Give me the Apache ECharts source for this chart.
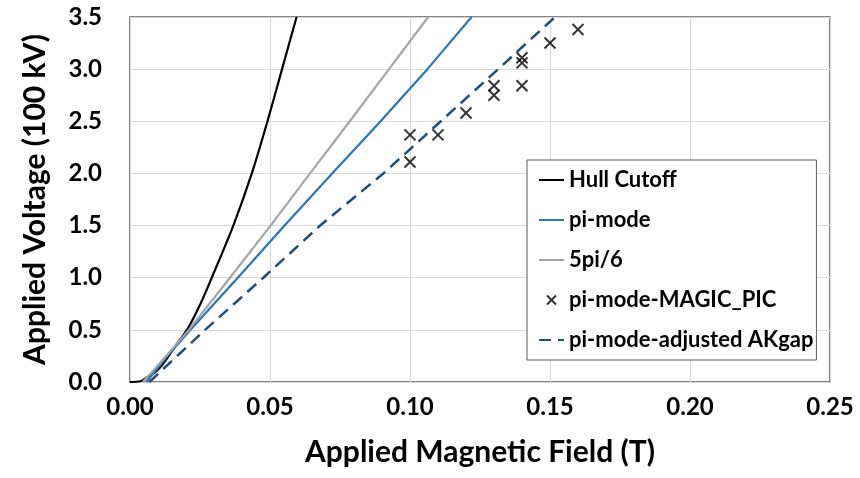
<!DOCTYPE html>
<html>
<head>
<meta charset="utf-8">
<script src="https://cdn.jsdelivr.net/npm/echarts@6/dist/echarts.min.js"></script>
<style>
  html, body { margin: 0; padding: 0; background: #fff; }
  #chart { width: 860px; height: 478px; }
</style>
</head>
<body>
<div id="chart"></div>
<script>
// Axis ticks
const xTicks = [0.00, 0.05, 0.10, 0.15, 0.20, 0.25];
const yTicks = [0.0, 0.5, 1.0, 1.5, 2.0, 2.5, 3.0, 3.5];

// Hull cutoff curve (B in T, V in 100 kV)
const hullB = [0, 0.004, 0.0064, 0.0088, 0.0111, 0.0161, 0.0208, 0.0250, 0.0292, 0.0369, 0.0435, 0.0491, 0.0543, 0.0595];
const hullV = [0, 0.01, 0.05, 0.09, 0.15, 0.34, 0.52, 0.74, 1.00, 1.50, 2.00, 2.50, 3.00, 3.50];

// pi-mode resonance
const piB = [0.0058, 0.0130, 0.0216, 0.0385, 0.0552, 0.0722, 0.0895, 0.1062, 0.1220];
const piV = [0, 0.24, 0.50, 1.00, 1.50, 2.00, 2.50, 3.00, 3.50];

// 5pi/6 resonance
const fiveB = [0.0046, 0.0120, 0.0210, 0.0357, 0.0502, 0.0643, 0.0785, 0.0925, 0.1065];
const fiveV = [0, 0.22, 0.50, 1.00, 1.50, 2.00, 2.50, 3.00, 3.50];

// MAGIC PIC simulation points
const picB = [0.10, 0.10, 0.11, 0.12, 0.13, 0.13, 0.14, 0.14, 0.14, 0.15, 0.16];
const picV = [2.37, 2.11, 2.37, 2.58, 2.84, 2.75, 3.11, 3.06, 2.84, 3.25, 3.38];

// pi-mode with adjusted anode-cathode gap
const adjB = [0.0069, 0.0268, 0.0476, 0.0679, 0.0905, 0.1110, 0.1315, 0.1518];
const adjV = [0, 0.50, 1.00, 1.50, 2.00, 2.50, 3.00, 3.50];

const pairs = (xs, ys) => xs.map((x, i) => [x, ys[i]]);

const FONT = 'Lato';
const hideDot = { opacity: 0 };
const chart = echarts.init(document.getElementById('chart'), null, { renderer: 'canvas' });

chart.setOption({
  backgroundColor: '#ffffff',
  animation: false,
  grid: {
    left: 130, right: 30, top: 17, bottom: 96,
    show: true, borderColor: '#595959', borderWidth: 1.5, backgroundColor: 'transparent'
  },
  xAxis: {
    type: 'value',
    min: xTicks[0], max: xTicks[xTicks.length - 1], interval: 0.05,
    name: 'Applied Magnetic Field (T)',
    nameLocation: 'middle', nameGap: 55,
    nameTextStyle: { fontFamily: FONT, fontWeight: 'bold', fontSize: 30, color: '#000' },
    axisLine: { show: false },
    axisTick: { show: false },
    axisLabel: {
      margin: 13, fontFamily: FONT, fontWeight: 'bold', fontSize: 24, color: '#000',
      formatter: v => v.toFixed(2)
    },
    splitLine: { lineStyle: { color: '#d9d9d9', width: 1 } }
  },
  yAxis: {
    type: 'value',
    min: yTicks[0], max: yTicks[yTicks.length - 1], interval: 0.5,
    name: 'Applied Voltage (100 kV)',
    nameLocation: 'middle', nameGap: 80,
    nameTextStyle: { fontFamily: FONT, fontWeight: 'bold', fontSize: 30, color: '#000' },
    axisLine: { show: false },
    axisTick: { show: false },
    axisLabel: {
      margin: 28, fontFamily: FONT, fontWeight: 'bold', fontSize: 24, color: '#000',
      formatter: v => v.toFixed(1)
    },
    splitLine: { lineStyle: { color: '#d9d9d9', width: 1 } }
  },
  legend: {
    orient: 'vertical',
    left: 527, top: 160,
    padding: [9, 3, 9, 11],
    itemGap: 18,
    itemWidth: 25, itemHeight: 9,
    backgroundColor: '#ffffff',
    borderColor: '#595959', borderWidth: 1,
    textStyle: { fontFamily: FONT, fontWeight: 'bold', fontSize: 22, color: '#000', lineHeight: 22 },
    data: [
      { name: 'Hull Cutoff', itemStyle: hideDot },
      { name: 'pi-mode', itemStyle: hideDot },
      { name: '5pi/6', itemStyle: hideDot },
      { name: 'pi-mode-MAGIC_PIC' },
      { name: 'pi-mode-adjusted AKgap', itemStyle: hideDot }
    ]
  },
  series: [
    {
      name: 'Hull Cutoff', type: 'line', data: pairs(hullB, hullV),
      smooth: 0.3, symbol: 'none', clip: true,
      lineStyle: { color: '#000000', width: 2.2 }, itemStyle: { color: '#000000' }
    },
    {
      name: 'pi-mode', type: 'line', data: pairs(piB, piV),
      symbol: 'none', clip: true,
      lineStyle: { color: '#2e75b6', width: 2.2 }, itemStyle: { color: '#2e75b6' }
    },
    {
      name: '5pi/6', type: 'line', data: pairs(fiveB, fiveV),
      symbol: 'none', clip: true,
      lineStyle: { color: '#a5a5a5', width: 2.2 }, itemStyle: { color: '#a5a5a5' }
    },
    {
      name: 'pi-mode-MAGIC_PIC', type: 'scatter', data: pairs(picB, picV),
      symbol: 'path://M0,0L10,10M10,0L0,10', symbolSize: 11,
      itemStyle: { color: 'none', borderColor: '#000000', borderWidth: 2 }
    },
    {
      name: 'pi-mode-adjusted AKgap', type: 'line', data: pairs(adjB, adjV),
      symbol: 'none', clip: true,
      lineStyle: { color: '#1f4e79', width: 2.5, type: [12, 7] }, itemStyle: { color: '#1f4e79' }
    }
  ]
});
</script>
</body>
</html>
